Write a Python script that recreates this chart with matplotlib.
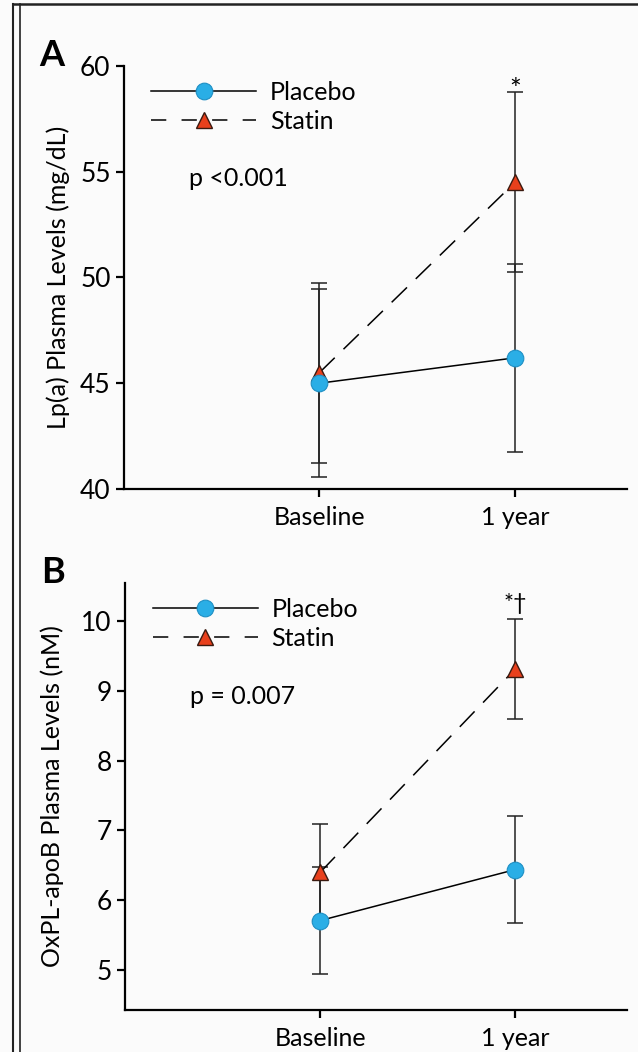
import matplotlib
matplotlib.use("Agg")
import matplotlib.pyplot as plt
from matplotlib.lines import Line2D

plt.rcParams.update({
    "font.family": ["Lato", "DejaVu Sans"], "font.size": 18,
    "figure.facecolor": "#fbfbfb", "axes.facecolor": "#fbfbfb",
})

# Time points
timepoints = ["Baseline", "1 year"]
x_pos = [1, 2]

# Panel A: Lp(a), mg/dL (mean and error)
lpa_placebo = [45.0, 46.2]
lpa_placebo_err = [4.45, 4.45]
lpa_statin = [45.5, 54.5]
lpa_statin_err = [4.25, 4.25]

# Panel B: OxPL-apoB, nM
oxpl_placebo = [5.71, 6.44]
oxpl_placebo_err = [0.77, 0.76]
oxpl_statin = [6.40, 9.31]
oxpl_statin_err = [0.69, 0.72]

PLACEBO_FC = "#2aaee6"
PLACEBO_EC = "#1f8fc4"
STATIN_FC = "#e8401c"
STATIN_EC = "#3a1a10"


def draw_panel(ax, placebo, placebo_err, statin, statin_err, ylim, yticks,
               ylabel, label_x, ptext, star, star_dy, star_size, letter):
    eb = dict(fmt="none", ecolor="#222222", elinewidth=1.1, capsize=5.5,
              capthick=1.1, zorder=2)
    ax.errorbar(x_pos, placebo, yerr=placebo_err, **eb)
    ax.errorbar(x_pos, statin, yerr=statin_err, **eb)

    ax.plot(x_pos, placebo, "-", color="black", lw=1.1, zorder=3)
    ax.plot(x_pos, placebo, "o", ms=12, mfc=PLACEBO_FC, mec=PLACEBO_EC,
            mew=0.8, zorder=5)
    ax.plot(x_pos, statin, color="black", lw=1.1, dashes=(14, 8), zorder=3)
    ax.plot(x_pos, statin, "^", ms=11, mfc=STATIN_FC, mec=STATIN_EC,
            mew=1.0, zorder=4)

    # significance marks above the 1-year statin bar
    ax.annotate(star, (x_pos[1], statin[1] + statin_err[1]),
                textcoords="offset points", xytext=(0, star_dy), ha="center",
                va="bottom", fontsize=star_size)

    ax.set_xlim(0, 2.57)
    ax.set_ylim(*ylim)
    ax.set_yticks(yticks)
    ax.set_xticks(x_pos)
    ax.set_xticklabels(timepoints)
    ax.set_ylabel(ylabel)
    ax.yaxis.set_label_coords(label_x, 0.5)

    for side in ("top", "right"):
        ax.spines[side].set_visible(False)
    for side in ("left", "bottom"):
        ax.spines[side].set_linewidth(1.6)
    ax.tick_params(axis="both", width=1.6, length=6, labelsize=19)
    ax.tick_params(axis="x", pad=6, labelsize=18)

    handles = [
        Line2D([], [], color="black", lw=1.1, marker="o", ms=12,
               mfc=PLACEBO_FC, mec=PLACEBO_EC, mew=0.8),
        Line2D([], [], color="black", lw=1.1, dashes=(10, 10), marker="^",
               ms=11, mfc=STATIN_FC, mec=STATIN_EC, mew=1.0),
    ]
    ax.legend(handles, ["Placebo", "Statin"], loc="upper left",
              bbox_to_anchor=(0.01, 1.018), frameon=False, handlelength=4.2,
              handletextpad=0.55, labelspacing=0.25, fontsize=18)

    ax.text(0.13, 0.735, ptext, transform=ax.transAxes, fontsize=18,
            va="center", ha="left")
    ax.text(-0.143, 1.025, letter, transform=ax.transAxes, fontsize=26,
            fontweight="bold", va="center", ha="center")


fig = plt.figure(figsize=(6.38, 10.52), dpi=100)
ax_a = fig.add_axes([0.194, 0.5352, 0.788, 0.4021])
ax_b = fig.add_axes([0.196, 0.0399, 0.786, 0.4059])

draw_panel(ax_a, lpa_placebo, lpa_placebo_err, lpa_statin, lpa_statin_err,
           (40, 60), [40, 45, 50, 55, 60], "Lp(a) Plasma Levels (mg/dL)",
           -0.107, "p <0.001", "*", -8, 20, "A")
draw_panel(ax_b, oxpl_placebo, oxpl_placebo_err, oxpl_statin, oxpl_statin_err,
           (4.43, 10.54), [5, 6, 7, 8, 9, 10], "OxPL-apoB Plasma Levels (nM)",
           -0.122, "p = 0.007", "*†", 3, 17, "B")

# panel frame
fig.add_artist(Line2D([13 / 638, 13 / 638], [0, 1 - 4 / 1052], color="#222222", lw=1.5))
fig.add_artist(Line2D([20 / 638, 20 / 638], [0, 1 - 4 / 1052], color="#222222", lw=1.2))
fig.add_artist(Line2D([13 / 638, 1], [1 - 4 / 1052, 1 - 4 / 1052], color="#222222", lw=1.8))

fig.savefig("out.png", dpi=100)
